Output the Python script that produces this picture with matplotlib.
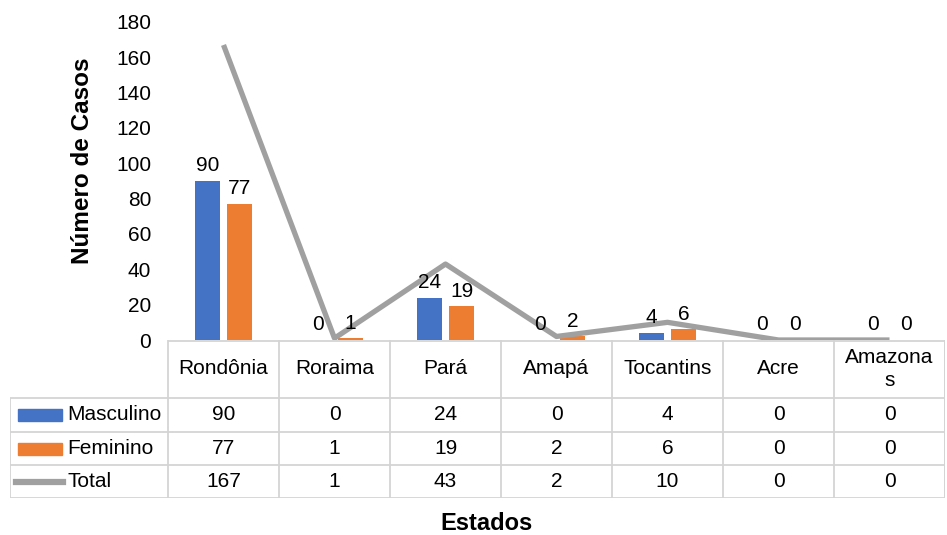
import numpy as np
import matplotlib.pyplot as plt

plt.rcParams['font.family'] = ['Liberation Sans', 'DejaVu Sans']

estados = ['Rondônia', 'Roraima', 'Pará', 'Amapá', 'Tocantins', 'Acre', 'Amazona\ns']
masculino = [90, 0, 24, 0, 4, 0, 0]
feminino = [77, 1, 19, 2, 6, 0, 0]
total = [167, 1, 43, 2, 10, 0, 0]

blue = '#4472C4'
orange = '#ED7D31'
gray = '#A0A0A0'
grid_c = '#D4D4D4'
fs = 15

W, H = 947, 535
fig = plt.figure(figsize=(W / 100, H / 100), dpi=100)

# main chart area (pixel positions from the reference)
x0, x1, ytop, ybot = 168, 945, 22, 340
ax = fig.add_axes([x0 / W, 1 - ybot / H, (x1 - x0) / W, (ybot - ytop) / H])
x = np.arange(len(estados))
bw = 0.23
b1 = ax.bar(x - bw / 2 - 0.03, masculino, bw, color=blue, zorder=2)
b2 = ax.bar(x + bw / 2 + 0.03, feminino, bw, color=orange, zorder=2)
ax.plot(x, total, color=gray, lw=3.8, zorder=3, solid_capstyle='butt')
for bars, vals in ((b1, masculino), (b2, feminino)):
    for r, v in zip(bars, vals):
        ax.annotate(str(v), (r.get_x() + r.get_width() / 2, r.get_height()),
                    xytext=(0, 4), textcoords='offset points',
                    ha='center', va='bottom', fontsize=fs, zorder=4)
ax.set_xlim(-0.5, len(estados) - 0.5)
ax.set_ylim(0, 180)
ax.set_yticks(range(0, 181, 20))
ax.set_xticks([])
ax.tick_params(axis='y', length=0, pad=12, labelsize=fs)
for s in ax.spines.values():
    s.set_visible(False)
ax.set_ylabel('Número de Casos', fontsize=17.5, fontweight='bold')
ax.yaxis.set_label_coords(-0.095, 0.563)

# data table below the chart
cw = (x1 - x0) / len(estados)
lx = 10
tb = 498
tax = fig.add_axes([lx / W, 1 - tb / H, (x1 - lx) / W, (tb - ybot) / H])
left_edge = -0.5 - (x0 - lx) / cw
tax.set_xlim(left_edge, len(estados) - 0.5)
tax.set_ylim(tb, ybot)
tax.axis('off')

rows = [398, 432, 465, 498]
kw = dict(color=grid_c, lw=1.3, solid_capstyle='butt')
tax.plot([-0.5, len(estados) - 0.5], [ybot + 1, ybot + 1], **kw)
for ry in rows:
    tax.plot([left_edge, len(estados) - 0.5], [ry, ry], **kw)
for i in range(len(estados) + 1):
    tax.plot([i - 0.5, i - 0.5], [ybot, tb], **kw)
tax.plot([left_edge, left_edge], [rows[0], tb], **kw)
tax.plot([len(estados) - 0.5] * 2, [ybot, tb], **kw)

for i, e in enumerate(estados):
    tax.text(i, (ybot + rows[0]) / 2, e, ha='center', va='center',
             fontsize=fs, linespacing=1.25)
series = [('Masculino', masculino, blue), ('Feminino', feminino, orange),
          ('Total', total, gray)]
for k, (name, vals, c) in enumerate(series):
    cy = (rows[k] + rows[k + 1]) / 2
    for i, v in enumerate(vals):
        tax.text(i, cy, str(v), ha='center', va='center', fontsize=fs)
    sx0 = left_edge + 8 / cw
    sx1 = left_edge + 52 / cw
    if name == 'Total':
        tax.plot([sx0 - 2 / cw, sx1 + 1 / cw], [cy, cy], color=c, lw=4.5)
    else:
        tax.add_patch(plt.Rectangle((sx0, cy - 6), sx1 - sx0, 12, color=c))
    tax.text(left_edge + 57 / cw, cy, name, ha='left', va='center', fontsize=fs)

fig.text(487 / W, 1 - 523 / H, 'Estados', ha='center', va='center',
         fontsize=17, fontweight='bold')

fig.savefig('out.png', dpi=100)
